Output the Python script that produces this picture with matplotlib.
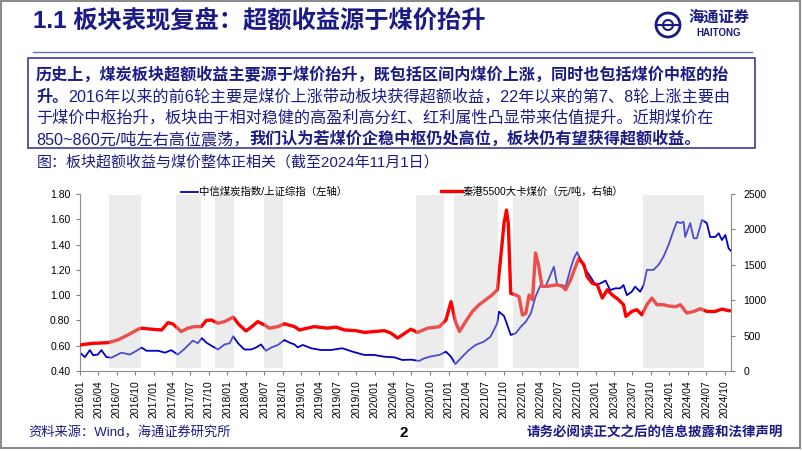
import numpy as np
import pandas as pd
import matplotlib
matplotlib.use("Agg")
import matplotlib.pyplot as plt
import matplotlib.dates as mdates
from matplotlib.patches import Rectangle, Circle

plt.rcParams['font.family'] = ['Liberation Sans', 'Noto Sans CJK SC']
plt.rcParams['axes.unicode_minus'] = False

NAVY = '#1b1b87'

# 中信煤炭指数/上证综指 (left axis)
blue_dates = [
    '2016-01-01', '2016-01-25', '2016-02-19', '2016-03-06', '2016-03-29', '2016-04-16', '2016-05-11',
    '2016-06-05', '2016-07-24', '2016-09-04', '2016-10-07', '2016-11-01', '2016-11-26',
    '2017-01-23', '2017-02-25', '2017-03-28', '2017-04-30', '2017-06-02', '2017-07-13', '2017-08-07',
    '2017-08-27', '2017-09-18', '2017-10-13', '2017-11-15', '2017-12-18',
    '2018-01-12', '2018-01-29', '2018-02-22', '2018-03-26', '2018-04-28', '2018-05-22', '2018-06-16',
    '2018-07-11', '2018-08-05', '2018-09-07', '2018-10-10', '2018-11-04', '2018-11-29', '2018-12-15',
    '2019-01-09', '2019-02-20', '2019-04-09', '2019-05-28', '2019-07-24', '2019-09-13', '2019-11-10',
    '2019-12-29',
    '2020-02-17', '2020-04-07', '2020-05-17', '2020-06-28', '2020-08-08', '2020-09-02', '2020-10-05',
    '2020-11-16', '2020-12-19',
    '2021-01-13', '2021-02-04', '2021-03-02', '2021-04-12', '2021-05-15', '2021-06-25', '2021-07-28',
    '2021-08-30', '2021-09-08', '2021-10-03', '2021-10-19', '2021-11-05', '2021-11-30', '2021-12-25',
    '2022-01-19', '2022-02-13', '2022-03-08', '2022-04-02', '2022-04-27', '2022-05-21', '2022-06-07',
    '2022-06-23', '2022-07-18', '2022-08-04', '2022-08-29', '2022-09-14', '2022-09-30', '2022-10-17',
    '2022-11-11', '2022-12-05', '2022-12-30',
    '2023-01-25', '2023-02-18', '2023-03-13', '2023-04-07', '2023-05-02', '2023-05-18', '2023-06-04',
    '2023-06-28', '2023-07-15', '2023-08-09', '2023-08-26', '2023-09-11', '2023-10-14', '2023-11-08',
    '2023-12-03', '2023-12-28',
    '2024-01-22', '2024-02-07', '2024-02-24', '2024-03-11', '2024-03-19', '2024-04-13', '2024-04-30',
    '2024-05-16', '2024-06-10', '2024-07-04', '2024-07-21', '2024-08-15', '2024-09-01', '2024-09-17',
    '2024-10-04', '2024-10-20', '2024-11-01',
]
blue_vals = [
    0.545, 0.51, 0.565, 0.525, 0.53, 0.565, 0.51, 0.505, 0.545, 0.53, 0.56, 0.585, 0.56,
    0.56, 0.545, 0.565, 0.53, 0.575, 0.64, 0.62, 0.66, 0.625, 0.60, 0.57, 0.61,
    0.62, 0.675, 0.62, 0.57, 0.57, 0.585, 0.61, 0.56, 0.585, 0.605, 0.645, 0.625, 0.61, 0.587,
    0.606, 0.58, 0.566, 0.566, 0.58, 0.553, 0.527, 0.527,
    0.513, 0.508, 0.487, 0.49, 0.48, 0.50, 0.515, 0.527, 0.553,
    0.513, 0.455, 0.50, 0.566, 0.606, 0.632, 0.671, 0.777, 0.869, 0.835, 0.764, 0.685, 0.698, 0.75,
    0.79, 0.856, 0.988, 1.08, 1.067, 1.16, 1.225, 1.08, 1.08, 1.067, 1.212, 1.29, 1.34, 1.278,
    1.2, 1.146, 1.08,
    1.094, 1.115, 1.04, 1.054, 1.054, 1.08, 1.0, 1.027, 1.067, 1.027, 1.08, 1.2, 1.2, 1.24,
    1.306, 1.40,
    1.515, 1.58, 1.57, 1.58, 1.46, 1.57, 1.45, 1.45, 1.595, 1.57, 1.46, 1.46, 1.49, 1.436,
    1.476, 1.37, 1.35,
]

# 秦港5500大卡煤价 (right axis)
red_dates = [
    '2016-01-01', '2016-02-28', '2016-05-19', '2016-07-07', '2016-08-26', '2016-10-15', '2016-11-01',
    '2016-12-20',
    '2017-02-09', '2017-03-12', '2017-04-05', '2017-05-17', '2017-06-19', '2017-07-21', '2017-08-24',
    '2017-09-18', '2017-10-13', '2017-11-15', '2017-12-18',
    '2018-01-29', '2018-03-01', '2018-04-03', '2018-05-06', '2018-05-31', '2018-07-03', '2018-07-28',
    '2018-09-08', '2018-10-10', '2018-11-29', '2018-12-24',
    '2019-03-07', '2019-05-11', '2019-06-23', '2019-08-03', '2019-09-30', '2019-11-10', '2019-12-29',
    '2020-02-17', '2020-03-21', '2020-04-23', '2020-05-17', '2020-06-28', '2020-07-31', '2020-09-19',
    '2020-11-16', '2020-12-19',
    '2021-01-13', '2021-02-04', '2021-02-24', '2021-03-27', '2021-04-29', '2021-06-01', '2021-07-04',
    '2021-08-06', '2021-08-31', '2021-09-17', '2021-10-03', '2021-10-15', '2021-10-24', '2021-11-05',
    '2021-11-30', '2021-12-16',
    '2022-01-02', '2022-01-19', '2022-02-04', '2022-02-21', '2022-03-08', '2022-03-24', '2022-04-09',
    '2022-05-04', '2022-06-23', '2022-07-18', '2022-08-04', '2022-08-29', '2022-09-23', '2022-10-09',
    '2022-11-03', '2022-11-19', '2022-12-14',
    '2023-01-08', '2023-02-02', '2023-02-27', '2023-03-22', '2023-04-24', '2023-05-18', '2023-05-30',
    '2023-06-28', '2023-07-23', '2023-08-17', '2023-09-11', '2023-10-06', '2023-10-31', '2023-12-03',
    '2023-12-28',
    '2024-01-31', '2024-02-24', '2024-03-27', '2024-04-30', '2024-06-02', '2024-07-04', '2024-08-15',
    '2024-09-17', '2024-10-20', '2024-11-01',
]
red_vals = [
    367, 390, 400, 440, 510, 590, 605, 590,
    580, 683, 665, 557, 605, 627, 627, 713, 720, 675, 698,
    760, 650, 565, 635, 698, 650, 605, 627, 667, 627, 580,
    627, 605, 620, 580, 570, 545, 557,
    570, 536, 465, 510, 590, 545, 605, 625, 720,
    979, 700, 559, 700, 841, 936, 1006, 1077, 1148, 1619, 2089, 2273, 2089, 1097, 1073, 1049,
    791, 814, 1073, 1006, 1668, 1480, 1195, 1195, 1218, 1195, 1148, 1289, 1480, 1592, 1498, 1333, 1240,
    1218, 1030, 1148, 1077, 1006, 936, 771, 841, 865, 794, 936, 1030, 936, 936, 918,
    908, 936, 818, 841, 880, 841, 841, 875, 852, 850,
]

# 超额收益区间 (gray bands)
band_starts = ['2016-05-25', '2017-04-19', '2017-10-30', '2018-07-03',
               '2020-07-24', '2021-01-30', '2021-11-16', '2023-08-21']
band_ends = ['2016-10-28', '2017-08-21', '2018-02-01', '2018-10-05',
             '2020-12-10', '2021-09-03', '2022-10-09', '2024-06-18']

left_ticks = [0.40, 0.60, 0.80, 1.00, 1.20, 1.40, 1.60, 1.80]
right_ticks = [0, 500, 1000, 1500, 2000, 2500]

title = '1.1 板块表现复盘：超额收益源于煤价抬升'
body_lines = [
    [('历史上，煤炭板块超额收益主要源于煤价抬升，既包括区间内煤价上涨，同时也包括煤价中枢的抬', True)],
    [('升。', True), ('2016年以来的前6轮主要是煤价上涨带动板块获得超额收益，22年以来的第7、8轮上涨主要由', False)],
    [('于煤价中枢抬升，板块由于相对稳健的高盈利高分红、红利属性凸显带来估值提升。近期煤价在', False)],
    [('850~860元/吨左右高位震荡，', False), ('我们认为若煤价企稳中枢仍处高位，板块仍有望获得超额收益。', True)],
]
caption = '图：板块超额收益与煤价整体正相关（截至2024年11月1日）'
blue_label = '中信煤炭指数/上证综指（左轴）'
red_label = '秦港5500大卡煤价（元/吨，右轴）'

fig = plt.figure(figsize=(8.02, 4.51), dpi=100)

# background layer in pixel coordinates
bg = fig.add_axes([0, 0, 1, 1])
bg.set_xlim(0, 802)
bg.set_ylim(451, 0)
bg.axis('off')

bg.add_patch(Rectangle((1, 1), 799, 447, fill=False, ec='#8c8c8c', lw=1.5))
bg.text(33, 22, title, fontsize=17.5, fontweight='bold', color=NAVY, va='center')
bg.plot([33, 752], [52, 52], color='#6a6aae', lw=1)
bg.add_patch(Rectangle((28, 58), 727, 90, fill=False, ec='#3c3ca0', lw=1.2))

# logo
bg.add_patch(Circle((668, 25), 12, fill=False, ec=NAVY, lw=2))
bg.add_patch(Circle((668, 25), 5, fill=False, ec=NAVY, lw=1.5))
bg.plot([656, 680], [25, 25], color=NAVY, lw=1.5)
bg.text(719, 17, '海通证券', fontsize=11, fontweight='bold', color=NAVY, ha='center', va='center')
bg.text(719, 33, 'HAITONG', fontsize=7, fontweight='bold', color=NAVY, ha='center', va='center')

line_y = [75, 97, 118, 139]
for y, pieces in zip(line_y, body_lines):
    prev = None
    for txt, bold in pieces:
        w = 'bold' if bold else 'normal'
        if prev is None:
            prev = bg.text(36, y, txt, fontsize=11.6, fontweight=w, color=NAVY, va='center')
        else:
            prev = bg.annotate(txt, xy=(1, 0.5), xycoords=prev, fontsize=11.6, fontweight=w,
                               color=NAVY, va='center', ha='left')

bg.text(37, 162, caption, fontsize=10.8, color=NAVY, va='center')

bg.text(28, 433, '资料来源：Wind，海通证券研究所', fontsize=9.5, color=NAVY, va='center')
bg.text(404, 433, '2', fontsize=11, fontweight='bold', color='black', va='center', ha='center')
bg.text(783, 433, '请务必阅读正文之后的信息披露和法律声明', fontsize=9.7, fontweight='bold',
        color=NAVY, va='center', ha='right')

# chart
ax = fig.add_axes([80 / 802, 1 - 371 / 451, 651 / 802, 177 / 451])
ax2 = ax.twinx()

bd = pd.to_datetime(blue_dates)
rd = pd.to_datetime(red_dates)
lb, = ax.plot(bd, blue_vals, color='#0000cc', lw=1.3, label=blue_label)
lr, = ax2.plot(rd, red_vals, color='#ff0000', lw=2.4, label=red_label)

for s, e in zip(band_starts, band_ends):
    ax2.axvspan(pd.Timestamp(s), pd.Timestamp(e), ymin=0.017, ymax=0.994,
                color='#cdcdcd', alpha=0.38, lw=0, zorder=5)

ax.set_xlim(pd.Timestamp('2016-01-01'), pd.Timestamp('2024-11-01'))
ax.set_ylim(0.4, 1.8)
ax2.set_ylim(0, 2500)
ax.set_yticks(left_ticks)
ax.set_yticklabels(['%.2f' % v for v in left_ticks])
ax2.set_yticks(right_ticks)
ax2.set_yticklabels([str(v) for v in right_ticks])

qticks = pd.date_range('2016-01-01', '2024-10-01', freq='QS')
ax.set_xticks(qticks)
ax.set_xticklabels([d.strftime('%Y/%m') for d in qticks], rotation=90)

for a in (ax, ax2):
    for sp in a.spines.values():
        sp.set_visible(False)
    a.tick_params(colors='#808080', labelcolor='black', labelsize=7.5, length=3, width=0.8)
ax.spines['left'].set_visible(True)
ax.spines['bottom'].set_visible(True)
ax2.spines['right'].set_visible(True)
for sp in (ax.spines['left'], ax.spines['bottom'], ax2.spines['right']):
    sp.set_color('#8c8c8c')
    sp.set_linewidth(0.8)
ax.tick_params(axis='y', pad=4)
ax2.tick_params(axis='y', pad=6)

leg1 = fig.legend(handles=[lb], loc='center left', bbox_to_anchor=(181 / 802, 1 - 192 / 451),
                  frameon=False, fontsize=7.5, handlelength=1.6, handletextpad=0.1,
                  borderpad=0, borderaxespad=0)
leg2 = fig.legend(handles=[lr], loc='center left', bbox_to_anchor=(441 / 802, 1 - 192 / 451),
                  frameon=False, fontsize=7.5, handlelength=2.0, handletextpad=0.1,
                  borderpad=0, borderaxespad=0)

fig.savefig('out.png', dpi=100)
